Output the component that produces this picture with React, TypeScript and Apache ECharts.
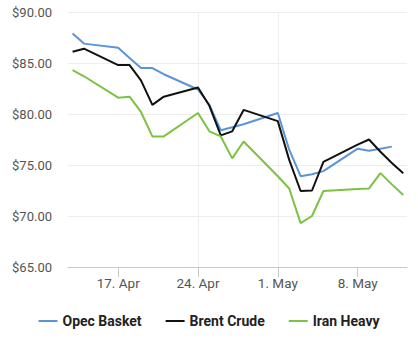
import React, { useEffect, useRef } from "react";
import * as echarts from "echarts";

const dates = [
  "2023-04-13", "2023-04-14", "2023-04-17", "2023-04-18", "2023-04-19", "2023-04-20", "2023-04-21",
  "2023-04-24", "2023-04-25", "2023-04-26", "2023-04-27", "2023-04-28",
  "2023-05-01", "2023-05-02", "2023-05-03", "2023-05-04", "2023-05-05",
  "2023-05-08", "2023-05-09", "2023-05-10", "2023-05-11", "2023-05-12",
];
const opecBasket = [87.9, 86.9, 86.5, 85.5, 84.5, 84.5, 83.9, 82.4, 80.9, 78.4, 78.7, 79.0, 80.1, 76.5, 73.9, 74.1, 74.4, 76.6, 76.4, 76.6, 76.8, null];
const brentCrude = [86.1, 86.4, 84.8, 84.8, 83.3, 80.9, 81.7, 82.6, 80.8, 77.9, 78.3, 80.4, 79.3, 75.5, 72.45, 72.5, 75.3, 77.0, 77.5, 76.3, 75.2, 74.2];
const iranHeavy = [84.3, 83.7, 81.6, 81.7, 80.2, 77.8, 77.8, 80.1, 78.3, 77.8, 75.65, 77.3, 73.9, 72.7, 69.3, 70.0, 72.45, 72.65, 72.7, 74.2, 73.1, 72.05];
const tickDates = ["2023-04-17", "2023-04-24", "2023-05-01", "2023-05-08"];
const tickLabels = ["17. Apr", "24. Apr", "1. May", "8. May"];

const DAY = 86400000;
const origin = Date.UTC(2023, 3, 17);
const toDay = (s: string) => (Date.parse(s + "T00:00:00Z") - origin) / DAY;

export default function App() {
  const ref = useRef<HTMLDivElement>(null);
  useEffect(() => {
    if (!ref.current) return;
    const chart = echarts.init(ref.current, null, { renderer: "svg" });
    const tickVals = tickDates.map(toDay);
    const mk = (vals: (number | null)[]) => dates.map((d, i) => [toDay(d), vals[i]]);
    const labelMap: Record<string, string> = {};
    tickVals.forEach((v, i) => (labelMap[String(v)] = tickLabels[i]));
    chart.setOption({
      animation: false,
      backgroundColor: "#ffffff",
      grid: { left: 68, right: 11, top: 12, bottom: 85 },
      xAxis: {
        type: "value",
        min: -4.4,
        max: 25.33,
        axisLine: { show: true, lineStyle: { color: "#c8c8c8", width: 1 } },
        axisTick: { show: true, length: 10, lineStyle: { color: "#c8c8c8" }, customValues: tickVals },
        axisLabel: {
          customValues: tickVals,
          formatter: (v: number) => labelMap[String(v)] ?? "",
          color: "#555555",
          fontSize: 13.5,
          fontFamily: "Roboto, Arial, sans-serif",
          margin: 9,
        },
        splitLine: { show: true, lineStyle: { color: "#eeeeee" }, showMinLine: false, showMaxLine: false },
      },
      yAxis: {
        type: "value",
        min: 65,
        max: 90,
        interval: 5,
        axisLine: { show: false },
        axisTick: { show: false },
        axisLabel: {
          formatter: (v: number) => "$" + v.toFixed(2),
          color: "#555555",
          fontSize: 13,
          fontFamily: "Roboto, Arial, sans-serif",
          margin: 16,
        },
        splitLine: { show: true, lineStyle: { color: "#eeeeee" } },
      },
      legend: {
        bottom: 19,
        left: "center",
        icon: "rect",
        itemWidth: 19,
        itemHeight: 2,
        itemGap: 24,
        textStyle: { color: "#222222", fontSize: 14, fontWeight: "bold", fontFamily: "Roboto, Arial, sans-serif" },
        data: ["Opec Basket", "Brent Crude", "Iran Heavy"],
      },
      series: [
        { name: "Opec Basket", type: "line", data: mk(opecBasket), showSymbol: false, symbol: "none", color: "#5b95d6", lineStyle: { width: 2 } },
        { name: "Brent Crude", type: "line", data: mk(brentCrude), showSymbol: false, symbol: "none", color: "#111111", lineStyle: { width: 2 } },
        { name: "Iran Heavy", type: "line", data: mk(iranHeavy), showSymbol: false, symbol: "none", color: "#7cc243", lineStyle: { width: 2 } },
      ],
    });
    return () => chart.dispose();
  }, []);
  return <div ref={ref} style={{ width: 418, height: 352, position: "absolute", left: 0, top: 0 }} />;
}
